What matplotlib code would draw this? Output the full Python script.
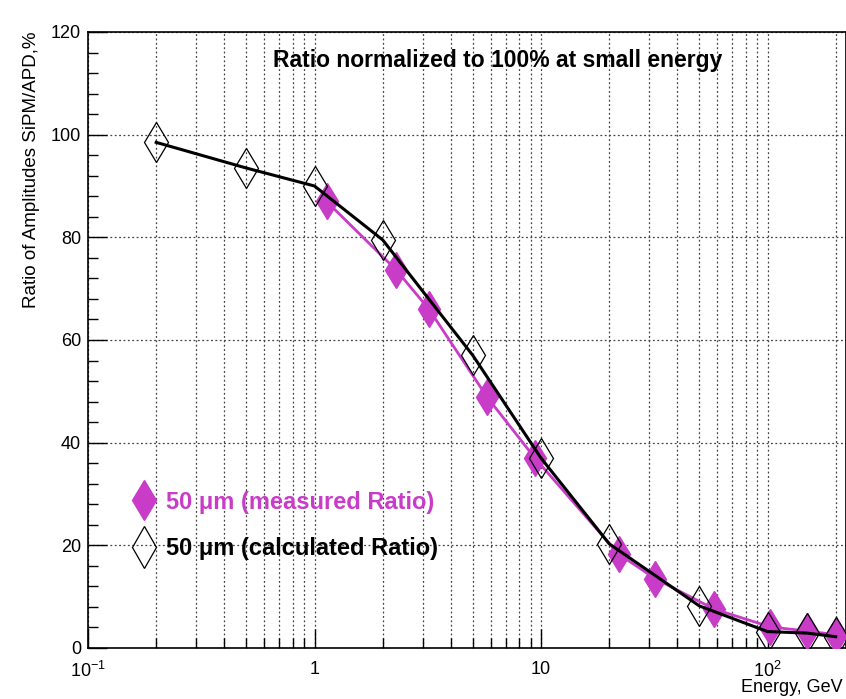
import matplotlib
matplotlib.use("Agg")
import matplotlib.pyplot as plt
from matplotlib.lines import Line2D
from matplotlib.ticker import LogLocator, FixedLocator, MultipleLocator, NullFormatter, FixedFormatter

plt.rcParams['font.family'] = ['Liberation Sans', 'DejaVu Sans']
plt.rcParams['mathtext.fontset'] = 'custom'
plt.rcParams['mathtext.rm'] = 'Liberation Sans'

# data
calc_energy = [0.2, 0.5, 1.0, 2.0, 5.0, 10.0, 20.0, 50.0, 100.0, 150.0, 200.0]
calc_ratio = [98.5, 93.5, 90.0, 79.5, 57.0, 37.0, 20.3, 8.2, 3.2, 2.9, 2.2]
meas_energy = [1.13, 2.3, 3.2, 5.8, 9.4, 22.0, 32.0, 58.0, 103.0, 150.0, 200.0]
meas_ratio = [87.0, 73.6, 66.0, 48.8, 37.0, 18.3, 13.5, 7.6, 4.1, 3.3, 2.6]

title_text = "Ratio normalized to 100% at small energy"
ylabel_text = "Ratio of Amplitudes SiPM/APD,%"
xlabel_text = "Energy, GeV"
leg_meas = "50 \u03bcm (measured Ratio)"
leg_calc = "50 \u03bcm (calculated Ratio)"
xtick_vals = [0.1, 1, 10, 100]
xtick_labels = ["$10^{-1}$", "1", "10", "$10^{2}$"]

magenta = '#c83cc8'

fig = plt.figure(figsize=(8.46, 6.99), dpi=100)
W, H = 846, 699
x0, x1 = 88, 846
y0, y1 = 648, 32
ax = fig.add_axes([x0 / W, 1 - y0 / H, (x1 - x0) / W, (y0 - y1) / H])

ax.plot(meas_energy, meas_ratio, color=magenta, lw=2.0, zorder=3)
ax.plot(meas_energy, meas_ratio, linestyle='none', marker='d', markersize=18,
        color=magenta, markeredgecolor=magenta, zorder=4)
ax.plot(calc_energy, calc_ratio, color='black', lw=2.2, zorder=5)
ax.plot(calc_energy, calc_ratio, linestyle='none', marker='d', markersize=20,
        markerfacecolor='none', markeredgecolor='black', markeredgewidth=0.9, zorder=6)

ax.set_xscale('log')
ax.set_xlim(0.1, 10 ** (-1 + (x1 - x0) / 226.5))
ax.set_ylim(0, 120)

ax.xaxis.set_major_locator(FixedLocator(xtick_vals))
ax.xaxis.set_major_formatter(FixedFormatter(xtick_labels))
ax.xaxis.set_minor_locator(LogLocator(base=10, subs=[2, 3, 4, 5, 6, 7, 8, 9], numticks=20))
ax.xaxis.set_minor_formatter(NullFormatter())
ax.yaxis.set_major_locator(MultipleLocator(20))
ax.yaxis.set_minor_locator(MultipleLocator(4))

ax.tick_params(axis='both', which='major', direction='in', length=14, width=1.0,
               labelsize=13, top=False, right=False)
ax.tick_params(axis='both', which='minor', direction='in', length=7, width=1.0,
               top=False, right=False)
ax.tick_params(axis='x', which='major', pad=9)
ax.tick_params(axis='y', which='major', pad=5)

ax.grid(True, which='both', axis='x', linestyle=(0, (1.5, 2)), color='#444444', lw=0.9)
ax.grid(True, which='major', axis='y', linestyle=(0, (1.5, 2)), color='#444444', lw=0.9)
ax.set_axisbelow(True)
for s in ax.spines.values():
    s.set_linewidth(1.2)

ax.text((498 - x0) / (x1 - x0), (y0 - 60) / (y0 - y1), title_text, transform=ax.transAxes,
        ha='center', va='center', fontsize=16.5, fontweight='bold')

ax.set_ylabel(ylabel_text, fontsize=13.5, loc='top', labelpad=8)
fig.text(843 / W, 1 - 688 / H, xlabel_text, fontsize=13, ha='right', va='center')

handles = [
    Line2D([], [], linestyle='none', marker='d', markersize=20, color=magenta),
    Line2D([], [], linestyle='none', marker='d', markersize=21, markerfacecolor='none',
           markeredgecolor='black', markeredgewidth=0.9),
]
leg = ax.legend(handles, [leg_meas, leg_calc], loc='center left',
                bbox_to_anchor=(0.03, 0.199), frameon=False,
                handlelength=1.0, handletextpad=0.45, labelspacing=1.0,
                prop={'weight': 'bold', 'size': 17})
leg.get_texts()[0].set_color(magenta)
leg.get_texts()[1].set_color('black')

fig.savefig('out.png', dpi=100)
